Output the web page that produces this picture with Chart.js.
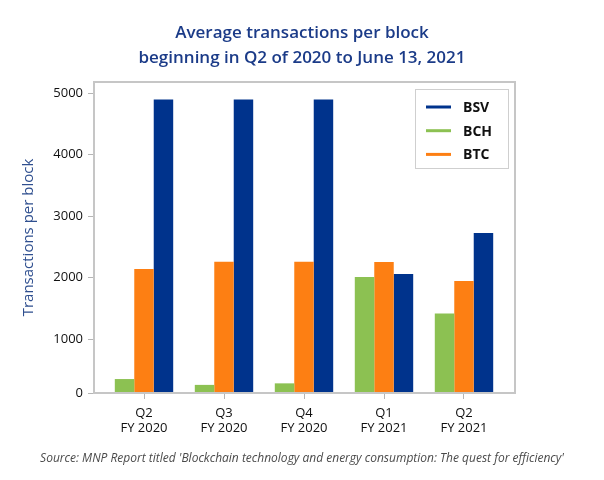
<!DOCTYPE html>
<html>
<head>
<meta charset="utf-8">
<script src="https://cdn.jsdelivr.net/npm/chart.js@4"></script>
<style>
  html, body { margin: 0; padding: 0; background: #fff; }
  #wrap { width: 604px; height: 480px; }
</style>
</head>
<body>
<div id="wrap"><canvas id="txChart" width="604" height="480"></canvas></div>
<script>
// Quarters on the x axis (two lines each)
const quarters = [
    ['Q2', 'FY 2020'], ['Q3', 'FY 2020'], ['Q4', 'FY 2020'],
    ['Q1', 'FY 2021'], ['Q2', 'FY 2021']
];

// Average transactions per block
const bchValues = [350, 255, 280, 2010, 1415];
const btcValues = [2140, 2260, 2260, 2255, 1945];
const bsvValues = [4900, 4900, 4900, 2060, 2725];

// y ticks; the source axis is squashed below 1000, its bottom is labelled 0
const yTicks = [1000, 2000, 3000, 4000, 5000];
const yBottom = 123;
const yTop = 5183;

const titleLines = ['Average transactions per block', 'beginning in Q2 of 2020 to June 13, 2021'];
const yTitle = 'Transactions per block';
const sourceText = "Source: MNP Report titled 'Blockchain technology and energy consumption: The quest for efficiency'";

const legendOrder = [2, 0, 1]; // BSV, BCH, BTC
const FONT = "'Open Sans', 'Noto Sans', sans-serif";

function toPoints(values) {
    return values.map((v, i) => ({ x: i, y: v }));
}

// titles, source line, plot frame and the legend box
const decorPlugin = {
    id: 'decor',
    afterDatasetsDraw(chart) {
        const ctx = chart.ctx;
        const area = chart.chartArea;
        ctx.save();

        // frame round the plot
        ctx.strokeStyle = '#c6c6c6';
        ctx.lineWidth = 2;
        ctx.strokeRect(area.left, area.top, area.right - area.left, area.bottom - area.top);

        // legend box
        const boxW = 93, boxH = 79;
        const bx = area.right - 7 - boxW;
        const by = area.top + 7;
        ctx.fillStyle = '#fff';
        ctx.fillRect(bx, by, boxW, boxH);
        ctx.strokeStyle = '#cfcfcf';
        ctx.lineWidth = 1;
        ctx.strokeRect(bx + 0.5, by + 0.5, boxW, boxH);

        ctx.font = 'bold 14px ' + FONT;
        ctx.textBaseline = 'middle';
        ctx.textAlign = 'left';
        legendOrder.forEach((dsIndex, row) => {
            const ds = chart.data.datasets[dsIndex];
            const y = by + 18 + row * 23.7;
            ctx.strokeStyle = ds.backgroundColor;
            ctx.lineWidth = 3;
            ctx.beginPath();
            ctx.moveTo(bx + 11, y);
            ctx.lineTo(bx + 36, y);
            ctx.stroke();
            ctx.fillStyle = '#111';
            ctx.fillText(ds.label, bx + 48, y + 1);
        });
        ctx.restore();
    },
    afterDraw(chart) {
        const ctx = chart.ctx;
        const cx = chart.width / 2;
        ctx.save();
        ctx.textAlign = 'center';
        ctx.textBaseline = 'alphabetic';
        ctx.fillStyle = '#1b3b88';
        ctx.font = '600 17px ' + FONT;
        ctx.fillText(titleLines[0], cx, 38);
        ctx.fillText(titleLines[1], cx, 63);

        ctx.fillStyle = '#4a4a4a';
        ctx.font = 'italic 12px ' + FONT;
        ctx.textBaseline = 'middle';
        ctx.fillText(sourceText, cx, 459);
        ctx.restore();
    }
};

const ctx = document.getElementById('txChart').getContext('2d');
new Chart(ctx, {
    type: 'bar',
    data: {
        datasets: [
            { label: 'BCH', data: toPoints(bchValues), backgroundColor: '#8cc152' },
            { label: 'BTC', data: toPoints(btcValues), backgroundColor: '#fd7f13' },
            { label: 'BSV', data: toPoints(bsvValues), backgroundColor: '#00338c' }
        ]
    },
    options: {
        responsive: false,
        animation: false,
        events: [],
        categoryPercentage: 0.73,
        barPercentage: 1.0,
        layout: { padding: { top: 82, right: 89, left: 16, bottom: 0 } },
        plugins: {
            legend: { display: false },
            title: { display: false },
            tooltip: { enabled: false }
        },
        scales: {
            x: {
                type: 'linear',
                min: -0.625,
                max: 4.6375,
                offset: false,
                afterBuildTicks: axis => { axis.ticks = quarters.map((q, i) => ({ value: i })); },
                afterFit: axis => { axis.height = 87; },
                border: { display: false },
                grid: { offset: false, drawOnChartArea: false, drawTicks: true, tickLength: 6, color: '#b5b5b5' },
                ticks: {
                    padding: 6,
                    color: '#111',
                    font: { family: FONT, size: 13 },
                    maxRotation: 0,
                    autoSkip: false,
                    callback: value => quarters[value]
                }
            },
            y: {
                type: 'linear',
                min: yBottom,
                max: yTop,
                afterBuildTicks: axis => {
                    axis.ticks = [yBottom].concat(yTicks).map(v => ({ value: v }));
                },
                afterFit: axis => { axis.width = 78; },
                border: { display: false },
                grid: { drawOnChartArea: false, drawTicks: true, tickLength: 6, color: '#b5b5b5' },
                ticks: {
                    padding: 5,
                    color: '#111',
                    font: { family: FONT, size: 13 },
                    callback: value => (value === yBottom ? '0' : String(value))
                },
                title: {
                    display: true,
                    text: yTitle,
                    color: '#2f4f8f',
                    font: { family: FONT, size: 15 }
                }
            }
        }
    },
    plugins: [decorPlugin]
});
</script>
</body>
</html>
